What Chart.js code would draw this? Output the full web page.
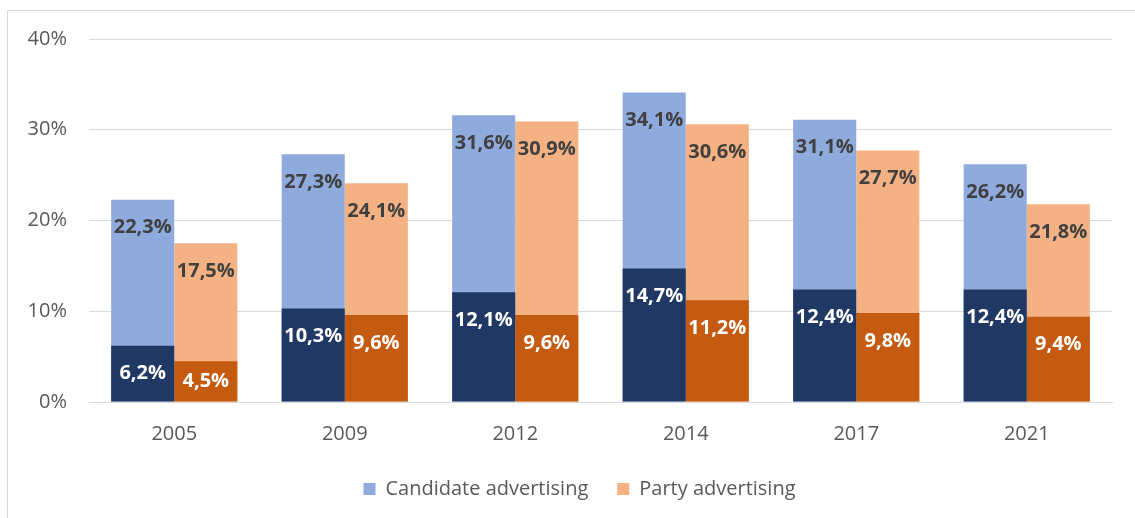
<!DOCTYPE html>
<html>
<head>
<meta charset="utf-8">
<script src="https://cdn.jsdelivr.net/npm/chart.js@4.4.1/dist/chart.umd.min.js"></script>
<style>
  html, body { margin: 0; padding: 0; background: #fff; }
  #wrap { position: relative; width: 1135px; height: 518px; }
  #frame { position: absolute; left: 7px; top: 10px; right: 0; bottom: 0;
           border-top: 1px solid #d9d9d9; border-left: 1px solid #d9d9d9; }
  canvas { position: absolute; left: 0; top: 0; }
</style>
</head>
<body>
<div id="wrap">
  <div id="frame"></div>
  <canvas id="chart" width="1135" height="518"></canvas>
</div>
<script>
// years on the x axis
var years = ['2005', '2009', '2012', '2014', '2017', '2021'];
// full bar heights (light colours)
var candidateTotal = [22.3, 27.3, 31.6, 34.1, 31.1, 26.2];
var partyTotal = [17.5, 24.1, 30.9, 30.6, 27.7, 21.8];
// inner part drawn over the bottom of each bar (dark colours)
var candidateInner = [6.2, 10.3, 12.1, 14.7, 12.4, 12.4];
var partyInner = [4.5, 9.6, 9.6, 11.2, 9.8, 9.4];
var yTicks = [0, 10, 20, 30, 40];

var colours = {
    candLight: '#8faadc',
    candDark: '#203864',
    partyLight: '#f4b183',
    partyDark: '#c55a11',
    grid: '#d9d9d9',
    text: '#595959',
    label: '#404040'
};

var fontFamily = '"Open Sans", "Liberation Sans", sans-serif';

function pct(v) {
    return v.toFixed(1).replace('.', ',') + '%';
}

// value labels inside the top end of each bar
var barLabels = {
    id: 'barLabels',
    afterDatasetsDraw: function (chart) {
        var ctx = chart.ctx;
        ctx.save();
        ctx.font = 'bold 20px ' + fontFamily;
        ctx.textAlign = 'center';
        ctx.textBaseline = 'middle';
        chart.data.datasets.forEach(function (ds, i) {
            var meta = chart.getDatasetMeta(i);
            meta.data.forEach(function (bar, j) {
                var y = Math.min(bar.y + 28, (bar.y + bar.base) / 2);
                ctx.fillStyle = ds.labelColour;
                ctx.fillText(pct(ds.data[j]), bar.x, y);
            });
        });
        ctx.restore();
    }
};

// nudge the legend a bit to the right, under the middle of the plot
var legendShift = {
    id: 'legendShift',
    afterLayout: function (chart) {
        if (chart.legend) {
            chart.legend.left += 12;
            chart.legend.right += 12;
        }
    }
};

var ctx = document.getElementById('chart').getContext('2d');
var myChart = new Chart(ctx, {
    type: 'bar',
    data: {
        labels: years,
        datasets: [
            { label: 'inner-c', data: candidateInner, stack: 'c', backgroundColor: colours.candDark, labelColour: '#ffffff' },
            { label: 'inner-p', data: partyInner, stack: 'p', backgroundColor: colours.partyDark, labelColour: '#ffffff' },
            { label: 'Candidate advertising', data: candidateTotal, stack: 'c', backgroundColor: colours.candLight, labelColour: colours.label },
            { label: 'Party advertising', data: partyTotal, stack: 'p', backgroundColor: colours.partyLight, labelColour: colours.label }
        ]
    },
    options: {
        responsive: false,
        animation: false,
        layout: { padding: { left: 23, right: 23, top: 39, bottom: 9 } },
        datasets: { bar: { categoryPercentage: 0.74, barPercentage: 1.0, borderWidth: 0 } },
        scales: {
            x: {
                stacked: true,
                grid: { display: false, drawTicks: false },
                border: { color: colours.grid, width: 1 },
                ticks: { color: colours.text, font: { family: fontFamily, size: 20 }, padding: 20 },
                afterFit: function (s) { s.height = 48; }
            },
            y: {
                stacked: false,
                min: 0,
                max: 40,
                afterBuildTicks: function (s) {
                    s.ticks = yTicks.map(function (v) { return { value: v }; });
                },
                grid: { color: colours.grid, lineWidth: 1, drawTicks: false },
                border: { display: false },
                ticks: {
                    color: colours.text,
                    font: { family: fontFamily, size: 20 },
                    padding: 22,
                    callback: function (v) { return v + '%'; }
                },
                afterFit: function (s) { s.width = 66; }
            }
        },
        plugins: {
            legend: {
                position: 'bottom',
                labels: {
                    boxWidth: 12,
                    boxHeight: 12,
                    padding: 29,
                    color: colours.text,
                    font: { family: fontFamily, size: 20 },
                    filter: function (item) { return item.datasetIndex >= 2; }
                }
            },
            tooltip: { enabled: false }
        }
    },
    plugins: [barLabels, legendShift]
});
</script>
</body>
</html>
